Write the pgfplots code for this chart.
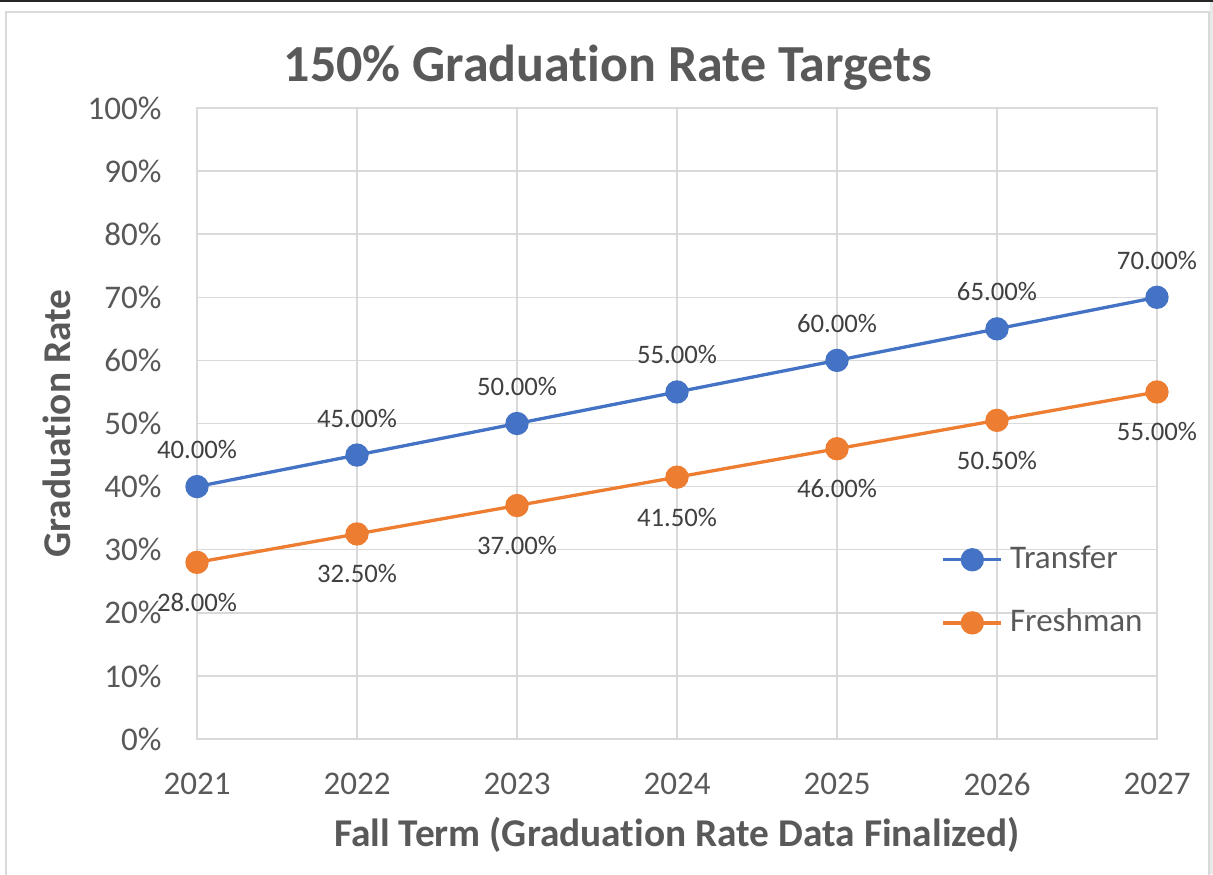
\documentclass[border=0pt]{standalone}
\usepackage{pgfplots}
\pgfplotsset{compat=1.18}
\usepackage{fontspec}
\setmainfont[Ligatures=NoCommon]{Carlito}
\definecolor{txt}{HTML}{595959}
\definecolor{lbl}{HTML}{404040}
\definecolor{grd}{HTML}{D9D9D9}
\definecolor{blu}{HTML}{4472C4}
\definecolor{org}{HTML}{ED7D31}

\begin{document}
\begin{tikzpicture}
% page frame (1 px of the reference = 0.1 mm)
\path[use as bounding box, fill=white] (0,0) rectangle (121.3mm,-87.4mm);
\fill[grd!60] (121.0mm,0) rectangle (121.3mm,-87.4mm);
\draw[grd, line width=0.25mm] (0.6mm,-1.2mm) rectangle (120.9mm,-95mm);
\fill[black!85] (0,0) rectangle (121.3mm,-0.2mm);

\begin{axis}[
	at={(19.7mm,-73.9mm)}, anchor=south west,
	scale only axis, width=96mm, height=63.1mm,
	xmin=2021, xmax=2027, ymin=0, ymax=100,
	xtick={2021,2022,2023,2024,2025,2026,2027},
	xticklabels={2021,2022,2023,2024,2025,2026,2027},
	ytick={0,10,20,30,40,50,60,70,80,90,100},
	yticklabels={0\%,10\%,20\%,30\%,40\%,50\%,60\%,70\%,80\%,90\%,100\%},
	tick label style={font=\fontsize{9.4}{11}\selectfont, text=txt},
	xticklabel style={yshift=-2.2mm},
	yticklabel style={xshift=-2.3mm},
	major tick length=0pt,
	grid=major,
	major grid style={grd, line width=0.15mm},
	axis line style={grd, line width=0.15mm},
	clip=false,
	title={150\% Graduation Rate Targets},
	title style={at={(axis description cs:0.428,1.008)}, anchor=base,
		font=\bfseries\fontsize{14.8}{17}\selectfont, text=txt},
	xlabel={Fall Term (Graduation Rate Data Finalized)},
	xlabel style={at={(axis description cs:0.5,-0.152)}, anchor=center,
		font=\bfseries\fontsize{11.2}{13}\selectfont, text=txt},
	ylabel={Graduation Rate},
	ylabel style={at={(axis description cs:-0.1458,0.5)}, anchor=center, rotate=0,
		font=\bfseries\fontsize{11.2}{13}\selectfont, text=txt},
	legend style={at={(0.764,0.3296)}, anchor=north west, draw=none, fill=none,
		font=\fontsize{9.4}{11}\selectfont, text=txt, row sep=2.1mm,
		cells={anchor=west}},
	legend image code/.code={\draw[mark repeat=2,mark phase=2,#1]
		plot coordinates {(0mm,0mm) (2.9mm,0mm) (5.8mm,0mm)};},
	nodes near coords={\pgfmathprintnumber[fixed,fixed zerofill,precision=2,assume math mode=true]{\pgfplotspointmeta}\%},
	every node near coord/.append style={anchor=center,
		font=\fontsize{7.6}{9}\selectfont, text=lbl},
]

% Transfer
\addplot[blu, line width=0.33mm, mark=*, mark size=1mm,
	mark options={fill=blu, draw=blu},
	every node near coord/.append style={yshift=3.7mm}]
	coordinates {(2021,40) (2022,45) (2023,50) (2024,55) (2025,60) (2026,65) (2027,70)};
\addlegendentry{Transfer}

% Freshman
\addplot[org, line width=0.33mm, mark=*, mark size=1mm,
	mark options={fill=org, draw=org},
	every node near coord/.append style={yshift=-4.0mm}]
	coordinates {(2021,28) (2022,32.5) (2023,37) (2024,41.5) (2025,46) (2026,50.5) (2027,55)};
\addlegendentry{Freshman}

\end{axis}
\end{tikzpicture}
\end{document}
